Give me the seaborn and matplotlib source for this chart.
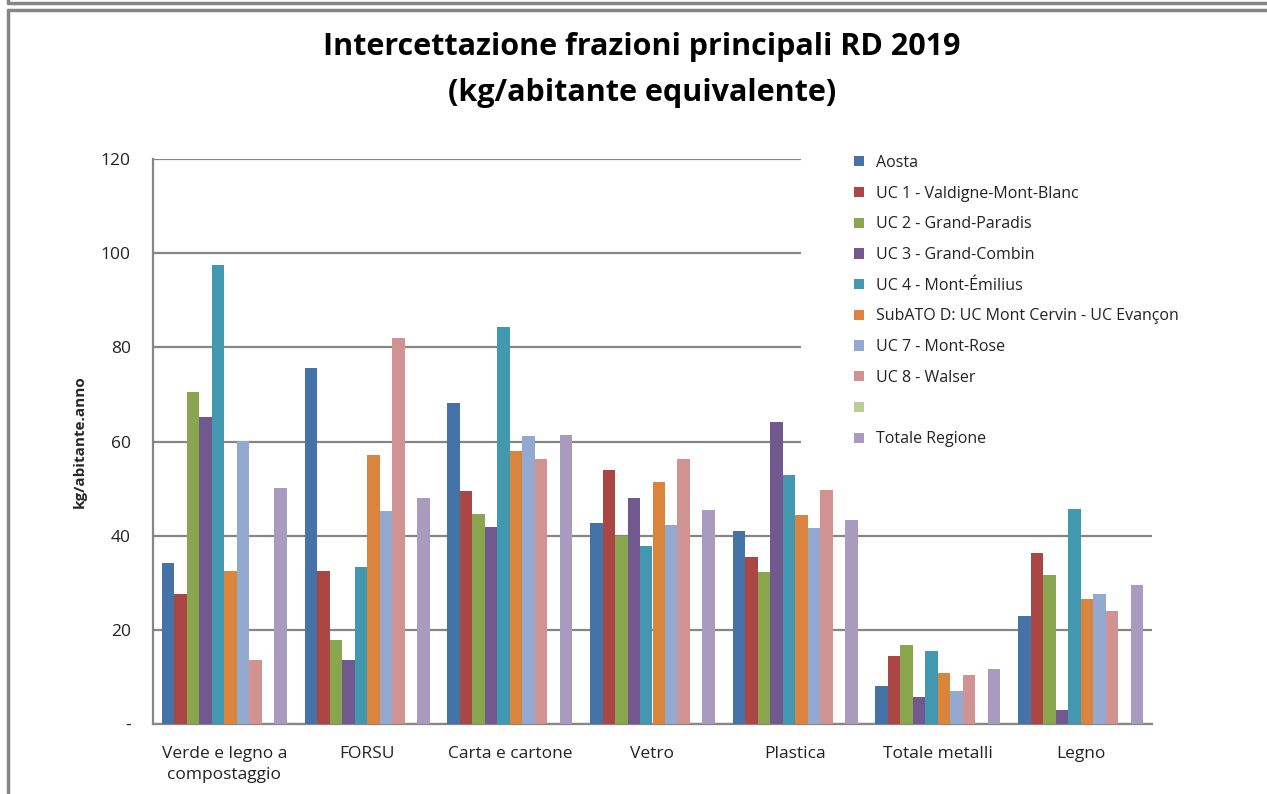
import numpy as np
import pandas as pd
import matplotlib.pyplot as plt
from matplotlib.patches import Patch, Rectangle
from matplotlib.lines import Line2D
import seaborn as sns

categories = ['Verde e legno a\ncompostaggio', 'FORSU', 'Carta e cartone', 'Vetro',
              'Plastica', 'Totale metalli', 'Legno']

series = ['Aosta', 'UC 1 - Valdigne-Mont-Blanc', 'UC 2 - Grand-Paradis',
          'UC 3 - Grand-Combin', 'UC 4 - Mont-Émilius',
          'SubATO D: UC Mont Cervin - UC Evançon', 'UC 7 - Mont-Rose',
          'UC 8 - Walser', ' ', 'Totale Regione']

aosta = [34.1, 75.6, 68.2, 42.6, 41.0, 8.1, 23.0]
uc1 = [27.6, 32.5, 49.4, 54.0, 35.4, 14.5, 36.4]
uc2 = [70.5, 17.8, 44.7, 40.0, 32.3, 16.8, 31.7]
uc3 = [65.1, 13.5, 41.8, 48.0, 64.1, 5.7, 3.0]
uc4 = [97.4, 33.4, 84.3, 37.7, 52.8, 15.5, 45.7]
subato_d = [32.6, 57.2, 57.9, 51.5, 44.3, 10.9, 26.5]
uc7 = [60.1, 45.3, 61.2, 42.2, 41.6, 7.1, 27.6]
uc8 = [13.6, 82.0, 56.2, 56.2, 49.7, 10.5, 24.0]
blank = [0, 0, 0, 0, 0, 0, 0]
totale = [50.2, 47.9, 61.4, 45.5, 43.3, 11.7, 29.6]

colors = ['#4572A7', '#AA4643', '#89A54E', '#71588F', '#4198AF',
          '#DB843D', '#93A9CF', '#D19392', '#B9CD96', '#A99BBD']

values = [aosta, uc1, uc2, uc3, uc4, subato_d, uc7, uc8, blank, totale]
rows = []
for s, vals in zip(series, values):
    for c, v in zip(categories, vals):
        rows.append({'Frazione': c, 'Serie': s, 'kg': v})
df = pd.DataFrame(rows)

sns.set_style('white')
plt.rcParams['font.family'] = ['Open Sans', 'DejaVu Sans']

fig = plt.figure(figsize=(12.67, 7.94), dpi=100)
ax = fig.add_axes([153 / 1267, 1 - 724 / 794, (1152 - 153) / 1267, (724 - 159) / 794])

sns.barplot(data=df, x='Frazione', y='kg', hue='Serie', order=categories,
            hue_order=series, palette=colors, saturation=1, width=0.875, gap=0,
            linewidth=0, errorbar=None, legend=False, ax=ax, zorder=3)

ax.set_ylim(0, 120)
ax.set_xlim(-0.5, len(categories) - 0.5)
ax.set_yticks(np.arange(0, 121, 20))
ax.set_yticklabels(['-'] + [str(v) for v in range(20, 121, 20)], fontsize=12.5, color='#222222')
ax.yaxis.grid(True, color='#868686', linewidth=1.6, zorder=0)
ax.set_axisbelow(True)

ax.set_xticks(range(len(categories)))
ax.set_xticklabels(categories, fontsize=12.5, color='#222222', linespacing=1.4)
ax.tick_params(axis='x', length=0, pad=16)
ax.set_xticks(np.arange(-0.5, len(categories)), minor=True)
ax.tick_params(axis='x', which='minor', length=6, width=1.6, color='#868686')
ax.tick_params(axis='y', length=6, width=1.6, color='#868686', pad=10)

for side in ['top', 'right']:
    ax.spines[side].set_visible(False)
for side in ['left', 'bottom']:
    ax.spines[side].set_color('#868686')
    ax.spines[side].set_linewidth(1.6)

ax.set_xlabel('')
ax.set_ylabel('kg/abitante.anno', fontsize=11, fontweight='bold', labelpad=10)

fig.text(642 / 1267, 1 - 47 / 794, 'Intercettazione frazioni principali RD 2019',
         ha='center', va='center', fontsize=22, fontweight='bold', color='black')
fig.text(642 / 1267, 1 - 93 / 794, '(kg/abitante equivalente)',
         ha='center', va='center', fontsize=22, fontweight='bold', color='black')

# white area behind the legend, hiding the gridlines as in the original
fig.patches.append(Rectangle((801 / 1267, 1 - 462 / 794), 420 / 1267, 320 / 794,
                             transform=fig.transFigure, facecolor='white',
                             edgecolor='none', zorder=2))

handles = [Patch(facecolor=c, edgecolor='none') for c in colors]
leg = fig.legend(handles, series, loc='upper left',
                 bbox_to_anchor=(854 / 1267, 1 - 155 / 794),
                 frameon=False, fontsize=11.5, handlelength=0.6, handleheight=0.6,
                 handletextpad=0.75, labelspacing=0.92, borderpad=0,
                 borderaxespad=0)
leg.set_zorder(5)
for t in leg.get_texts():
    t.set_color('#222222')

# outer chart frame
fig.add_artist(Line2D([8 / 1267, 1], [1 - 3 / 794, 1 - 3 / 794], color='#868686', lw=2.5))
fig.add_artist(Line2D([8 / 1267, 8 / 1267], [1 - 3 / 794, 1], color='#868686', lw=2.5))
fig.add_artist(Line2D([8 / 1267, 1], [1 - 10 / 794, 1 - 10 / 794], color='#868686', lw=2.5))
fig.add_artist(Line2D([8 / 1267, 8 / 1267], [0, 1 - 10 / 794], color='#868686', lw=2.5))

fig.savefig('out.png', dpi=100)
